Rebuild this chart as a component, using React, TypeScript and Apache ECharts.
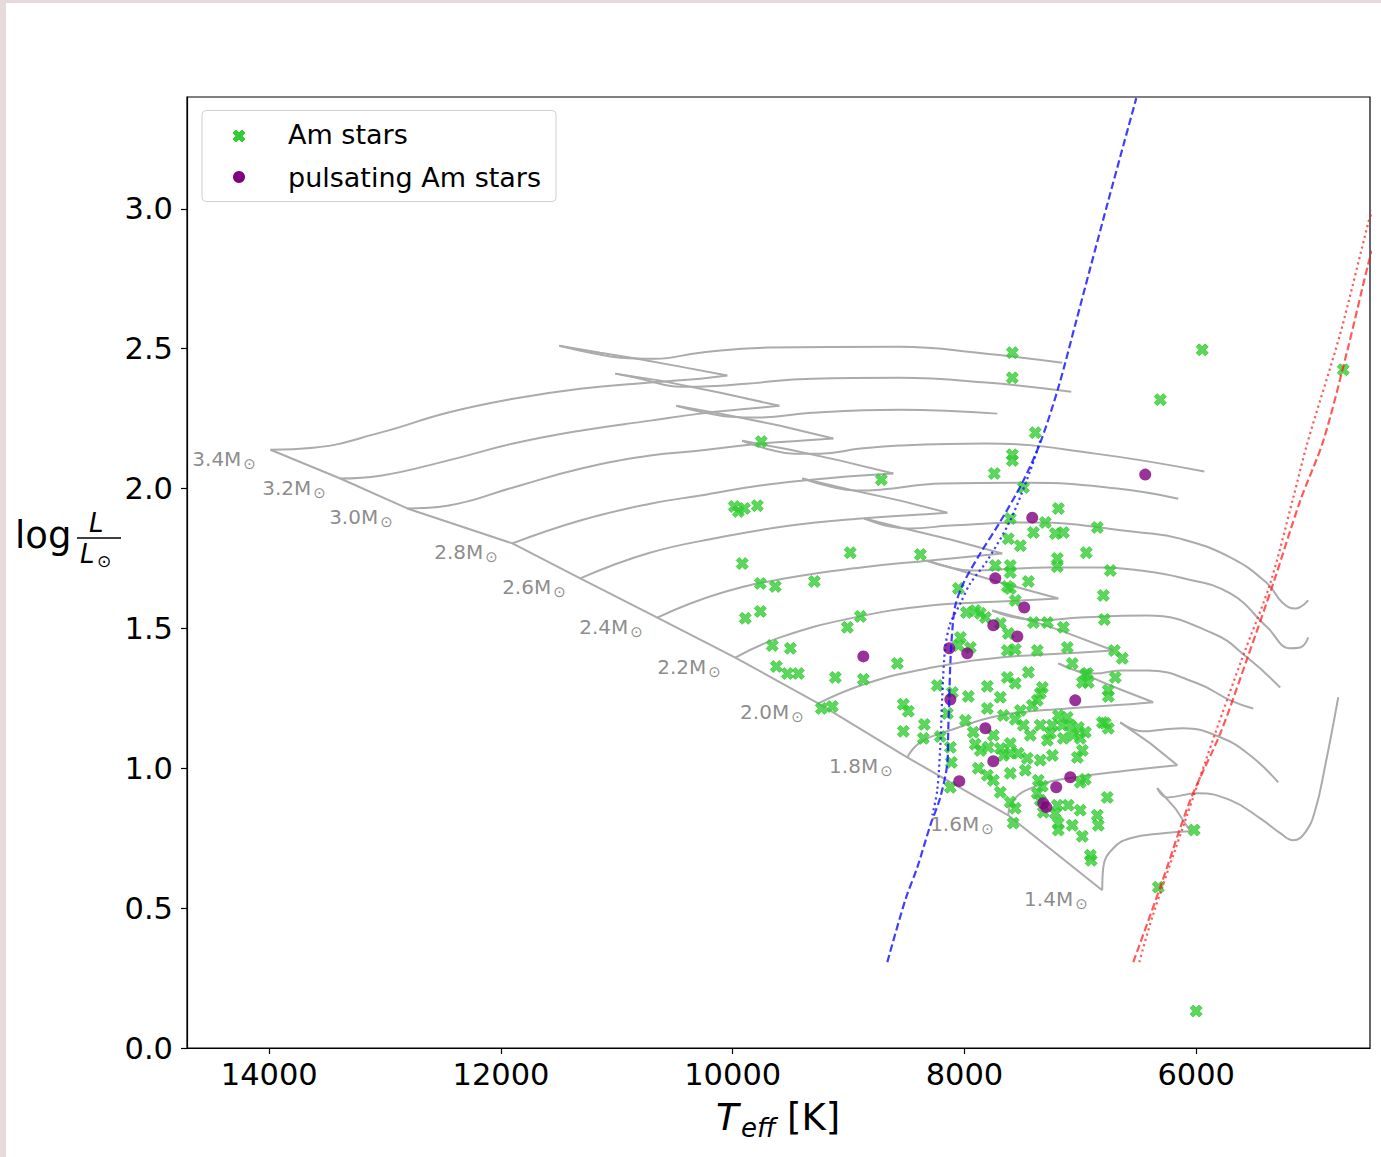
import React, { useEffect, useRef } from "react";
import * as echarts from "echarts";

// ---------- axes ----------
const T_TICKS = [6000, 8000, 10000, 12000, 14000];
const L_TICKS = [0, 0.5, 1.0, 1.5, 2.0, 2.5, 3.0];
const T_MIN = 4500;
const T_MAX = 14710;
const L_MIN = 0;
const L_MAX = 3.4;

// ---------- evolutionary tracks: [Teff, log L/Lsun] ----------
// each track = [main sequence up to the hook tip, contraction back to the hook base, post-hook evolution]
const MASSES = ["3.4", "3.2", "3.0", "2.8", "2.6", "2.4", "2.2", "2.0", "1.8", "1.6", "1.4"];

const track34 = [
  [[13990, 2.139], [13620, 2.146], [13042, 2.2], [12463, 2.271], [11894, 2.321], [11316, 2.357], [10712, 2.379], [10280, 2.393], [10047, 2.404]],
  [[10453, 2.436], [10824, 2.464], [11143, 2.486], [11497, 2.511]],
  [[11229, 2.486], [10970, 2.468], [10668, 2.464], [10280, 2.486], [9693, 2.504], [8563, 2.507], [7812, 2.482], [7156, 2.45]],
];
const track32 = [
  [[13387, 2.036], [13042, 2.046], [12463, 2.1], [11894, 2.161], [11316, 2.207], [10712, 2.243], [10280, 2.268], [9849, 2.286], [9598, 2.296]],
  [[10107, 2.343], [10625, 2.386], [11014, 2.411]],
  [[10798, 2.393], [10444, 2.364], [10107, 2.368], [9883, 2.375], [9313, 2.393], [8563, 2.396], [7812, 2.379], [7078, 2.346]],
];
const track30 = [
  [[12809, 1.929], [12463, 1.939], [11894, 2.004], [11316, 2.071], [10712, 2.118], [10280, 2.136], [9762, 2.161], [9417, 2.171], [9132, 2.179]],
  [[9590, 2.225], [10107, 2.268], [10487, 2.296]],
  [[10280, 2.275], [10021, 2.257], [9771, 2.254], [9322, 2.271], [8563, 2.282], [7717, 2.268]],
];
const track28 = [
  [[11902, 1.804], [11316, 1.886], [10712, 1.946], [10280, 1.975], [9762, 2.011], [9132, 2.039], [8614, 2.054]],
  [[9072, 2.1], [9503, 2.139], [9918, 2.171]],
  [[9676, 2.139], [9469, 2.125], [9244, 2.125], [8899, 2.143], [8563, 2.154], [7812, 2.161], [6871, 2.125], [5930, 2.061]],
];
const track26 = [
  [[11316, 1.679], [10737, 1.768], [10116, 1.825], [9503, 1.868], [8891, 1.893], [8381, 1.907], [8148, 1.914]],
  [[8554, 1.957], [8986, 1.996], [9400, 2.036]],
  [[9158, 2.007], [8942, 1.993], [8727, 1.996], [8192, 2.018], [7441, 2.021], [6681, 2.0], [6155, 1.964]],
];
const track24 = [
  [[10651, 1.539], [10116, 1.625], [9503, 1.682], [8891, 1.718], [8295, 1.743], [7674, 1.768]],
  [[8122, 1.818], [8554, 1.861], [8865, 1.893]],
  [[8640, 1.864], [8468, 1.857], [8122, 1.868], [7432, 1.879], [6483, 1.843], [6138, 1.821], [5706, 1.754], [5387, 1.661], [5257, 1.593], [5145, 1.571], [5033, 1.6]],
];
const track22 = [
  [[9978, 1.396], [9590, 1.468], [8986, 1.536], [8295, 1.582], [7691, 1.596], [7190, 1.607]],
  [[7691, 1.664], [8036, 1.707], [8330, 1.743]],
  [[8122, 1.718], [7950, 1.707], [7691, 1.711], [7285, 1.718], [6828, 1.718], [6483, 1.707], [6138, 1.682], [5706, 1.625], [5387, 1.504], [5188, 1.429], [5102, 1.432], [5033, 1.468]],
];
const track20 = [
  [[9262, 1.232], [8839, 1.304], [8269, 1.361], [7691, 1.396], [7113, 1.411], [6716, 1.421]],
  [[7174, 1.493], [7432, 1.529], [7760, 1.564]],
  [[7605, 1.543], [7346, 1.529], [7001, 1.539], [6422, 1.546], [5853, 1.482], [5559, 1.396], [5275, 1.289]],
];
const track18 = [
  [[8494, 1.039], [8381, 1.093], [8122, 1.136], [7691, 1.189], [7113, 1.214], [6569, 1.229], [6371, 1.236]],
  [[6742, 1.296], [7001, 1.343], [7190, 1.375]],
  [[7044, 1.35], [6871, 1.339], [6655, 1.35], [6422, 1.35], [5991, 1.304], [5706, 1.243], [5508, 1.214]],
];
const track16 = [
  [[7622, 0.832], [7579, 0.886], [7406, 0.932], [7113, 0.964], [6569, 0.993], [6163, 1.011]],
  [[6396, 1.089], [6655, 1.164]],
  [[6457, 1.132], [6284, 1.139], [6112, 1.143], [5792, 1.111], [5533, 1.046], [5292, 0.95]],
];
const track14 = [
  [[6811, 0.564], [6802, 0.646], [6716, 0.714], [6569, 0.75], [6284, 0.768], [6051, 0.775]],
  [[6181, 0.857], [6336, 0.929]],
  [[6250, 0.896], [5991, 0.911], [5706, 0.886], [5447, 0.821], [5275, 0.768], [5162, 0.743], [5059, 0.771], [4973, 0.85], [4886, 1.011], [4774, 1.254]],
];
const TRACKS = [track34, track32, track30, track28, track26, track24, track22, track20, track18, track16, track14];

// ---------- instability strip edges ----------
const blueEdgeDashed = [
  [8666, 0.307], [8511, 0.529], [8407, 0.646], [8295, 0.796], [8209, 0.896], [8148, 1.018], [8140, 1.136],
  [8131, 1.254], [8122, 1.375], [8105, 1.493], [8079, 1.582], [8010, 1.661], [7864, 1.768], [7691, 1.882],
  [7501, 2.021], [7346, 2.164], [7190, 2.361], [7035, 2.6], [6914, 2.789], [6759, 3.029], [6517, 3.396],
];
const blueEdgeDotted = [
  [7346, 2.171], [7432, 2.064], [7605, 1.886], [7803, 1.743], [7950, 1.661], [8036, 1.589], [8122, 1.518],
  [8166, 1.432], [8192, 1.254], [8209, 1.075], [8235, 0.921], [8278, 0.832],
];
const redEdgeDashed = [
  [6543, 0.307], [6310, 0.575], [6051, 0.886], [5792, 1.125], [5559, 1.393], [5335, 1.661], [5102, 1.957],
  [4903, 2.171], [4696, 2.493], [4515, 2.804], [4481, 2.85],
];
const redEdgeDotted = [
  [6491, 0.307], [6379, 0.468], [6094, 0.814], [5836, 1.125], [5594, 1.404], [5361, 1.661], [5162, 1.968],
  [5042, 2.161], [4757, 2.554], [4515, 2.95], [4481, 2.993],
];

// ---------- stars ----------
const amStars = [
  [7587, 2.486], [7587, 2.396], [5948, 2.496], [6310, 2.318], [4731, 2.425], [7389, 2.2], [9754, 2.168],
  [7587, 2.121], [7587, 2.1], [7743, 2.054], [8718, 2.032], [7492, 2.004], [7190, 1.929], [7303, 1.879],
  [7406, 1.843], [7216, 1.839], [7147, 1.843], [6854, 1.861], [7605, 1.893], [7622, 1.821], [7518, 1.796],
  [6949, 1.771], [7199, 1.75], [7199, 1.721], [6742, 1.707], [7734, 1.725], [7605, 1.725], [7605, 1.7],
  [7449, 1.668], [7631, 1.65], [7562, 1.6], [6802, 1.618], [6793, 1.532], [8053, 1.643], [7984, 1.557],
  [7907, 1.564], [7820, 1.539], [7285, 1.521], [7147, 1.504], [7691, 1.518], [7406, 1.521], [7622, 1.482],
  [8036, 1.468], [8053, 1.439], [7950, 1.432], [7631, 1.421], [7562, 1.425], [6707, 1.421], [6638, 1.393],
  [7070, 1.375], [7372, 1.421], [9987, 1.936], [9952, 1.918], [9900, 1.929], [9788, 1.939], [9918, 1.732],
  [8986, 1.771], [8381, 1.764], [9296, 1.668], [9762, 1.661], [9633, 1.65], [9892, 1.536], [9762, 1.561],
  [8899, 1.543], [9011, 1.504], [9659, 1.439], [9503, 1.429], [9624, 1.364], [9529, 1.339], [9434, 1.339],
  [9115, 1.325], [8873, 1.318], [8580, 1.375], [9236, 1.214], [9141, 1.221], [8528, 1.229], [8485, 1.204],
  [8347, 1.157], [8528, 1.132], [8355, 1.107], [8209, 1.114], [8235, 1.296], [8148, 1.196], [8105, 1.271],
  [8122, 1.075], [8114, 1.021], [8122, 0.932], [7967, 1.257], [7803, 1.293], [7691, 1.254], [7562, 1.304],
  [7631, 1.325], [7449, 1.343], [7328, 1.289], [7346, 1.268], [7372, 1.243], [6983, 1.307], [6932, 1.307],
  [6957, 1.336], [6759, 1.279], [6759, 1.257], [6699, 1.325], [7803, 1.214], [7665, 1.189], [7518, 1.207],
  [7562, 1.175], [7492, 1.154], [7924, 1.129], [7864, 1.064], [7907, 1.086], [7795, 1.075], [7691, 1.071],
  [7605, 1.089], [7665, 1.046], [7605, 1.054], [7536, 1.054], [7458, 1.036], [7346, 1.029], [7242, 1.046],
  [7346, 1.154], [7242, 1.154], [7156, 1.154], [7087, 1.154], [7018, 1.146], [6957, 1.129], [7147, 1.107],
  [7061, 1.118], [6983, 1.064], [7026, 1.039], [6811, 1.164], [6759, 1.143], [7881, 1.0], [7803, 0.975],
  [7751, 0.957], [7691, 0.914], [7605, 0.982], [7363, 0.957], [7328, 0.936], [7001, 0.95], [6957, 0.961],
  [6768, 0.896], [7605, 0.879], [7562, 0.857], [7579, 0.804], [7372, 0.911], [7346, 0.886], [7199, 0.868],
  [7216, 0.839], [7104, 0.868], [7001, 0.85], [6854, 0.832], [6845, 0.796], [7070, 0.796], [7190, 0.804],
  [7190, 0.779], [6983, 0.757], [7320, 0.843], [6914, 0.689], [6906, 0.671], [6017, 0.779], [6327, 0.575],
  [6000, 0.132], [7113, 1.182], [7259, 1.125], [6940, 1.339], [7001, 1.107], [6785, 1.161], [7432, 1.118],
  [7113, 1.432], [7605, 1.643], [7864, 1.554], [7285, 1.1], [7751, 1.118], [7190, 1.189], [7993, 1.171],
  [7415, 1.225], [7475, 0.993],
];
const pulsatingAmStars = [
  [6440, 2.05], [7415, 1.896], [7734, 1.679], [7484, 1.575], [7751, 1.511], [7544, 1.471], [8131, 1.429],
  [7976, 1.411], [8873, 1.4], [8122, 1.246], [7044, 1.243], [7820, 1.143], [7751, 1.025], [8045, 0.954],
  [7087, 0.968], [7208, 0.932], [7320, 0.875], [7294, 0.861],
];

// ---------- styling ----------
const FONT = "DejaVu Sans";
const AM_COLOR = "#32cd32";
const PULS_COLOR = "#800080";
const TRACK_COLOR = "#ababab";
const LABEL_GRAY = "#6e6e6e";
const BLUE = "rgba(20,20,255,0.82)";
const RED = "rgba(255,25,25,0.72)";
const FRAME = "#e6dada";

// filled "X" marker outline (matplotlib style), in units of a quarter of the marker size
const X_MARKER = [[-1, -2], [0, -1], [1, -2], [2, -1], [1, 0], [2, 1], [1, 2], [0, 1], [-1, 2], [-2, 1], [-1, 0], [-2, -1]];
const X_SYMBOL =
  "path://" + X_MARKER.map(([u, v], i) => (i ? "L" : "M") + (u + 2) * 25 + "," + (v + 2) * 25).join("") + "Z";
const xMarkerPoints = (cx: number, cy: number, size: number) =>
  X_MARKER.map(([u, v]) => [cx + (u * size) / 4, cy + (v * size) / 4]);

function buildOption() {
  const series: any[] = [];

  TRACKS.forEach((segments) => {
    let prev: number[] | null = null;
    segments.forEach((seg, j) => {
      const pts = prev ? [prev, ...seg] : seg;
      prev = seg[seg.length - 1];
      series.push({
        type: "line",
        data: pts,
        smooth: j === 1 ? false : 0.45,
        symbol: "none",
        silent: true,
        lineStyle: { color: TRACK_COLOR, width: 2 },
        z: 1,
      });
    });
  });

  // zero-age main sequence through the first point of every track
  series.push({
    type: "line",
    data: TRACKS.map((t) => t[0][0]),
    symbol: "none",
    silent: true,
    lineStyle: { color: TRACK_COLOR, width: 2 },
    z: 1,
  });

  // mass labels next to the ZAMS points
  series.push({
    type: "scatter",
    data: TRACKS.map((t, i) => ({ value: t[0][0], name: MASSES[i] })),
    symbolSize: 1,
    silent: true,
    itemStyle: { color: "rgba(0,0,0,0)" },
    label: {
      show: true,
      position: "left",
      distance: 14,
      offset: [0, 9],
      formatter: (p: any) => `{m|${p.name}M}{o|\u2299}`,
      rich: {
        m: { fontSize: 20, fontFamily: FONT, color: LABEL_GRAY },
        o: { fontSize: 15, fontFamily: FONT, color: LABEL_GRAY, padding: [10, 0, 0, 2] },
      },
    },
    z: 2,
  });

  series.push({
    name: "Am stars",
    type: "scatter",
    data: amStars,
    symbol: X_SYMBOL,
    symbolSize: 12,
    itemStyle: { color: AM_COLOR, borderColor: AM_COLOR, borderWidth: 1 },
    z: 3,
  });
  series.push({
    name: "pulsating Am stars",
    type: "scatter",
    data: pulsatingAmStars,
    symbol: "circle",
    symbolSize: 12,
    itemStyle: { color: PULS_COLOR },
    z: 4,
  });

  const edge = (data: number[][], color: string, type: any) => ({
    type: "line",
    data,
    smooth: 0.3,
    symbol: "none",
    silent: true,
    lineStyle: { color, width: 2.2, type },
    z: 5,
  });
  series.push(edge(blueEdgeDashed, BLUE, [7.5, 3.5]));
  series.push(edge(blueEdgeDotted, BLUE, [2.2, 3.3]));
  series.push(edge(redEdgeDashed, RED, [7.5, 3.5]));
  series.push(edge(redEdgeDotted, RED, [2.2, 3.3]));

  const txt = (text: string, x: number, y: number, size: number, extra: any = {}) => ({
    type: "text",
    x,
    y,
    silent: true,
    z: 20,
    style: {
      text,
      fontSize: size,
      fontFamily: FONT,
      fill: "#000",
      align: "left",
      verticalAlign: "middle",
      ...extra,
    },
  });

  const graphic: any[] = [
    { type: "rect", silent: true, z: 30, shape: { x: 0, y: 0, width: 1381, height: 3 }, style: { fill: FRAME } },
    { type: "rect", silent: true, z: 30, shape: { x: 0, y: 0, width: 6, height: 1157 }, style: { fill: FRAME } },
    // legend
    {
      type: "rect",
      silent: true,
      z: 18,
      shape: { x: 202, y: 110.5, width: 354, height: 91, r: 4 },
      style: { fill: "rgba(255,255,255,0.8)", stroke: "#cfcfcf", lineWidth: 1 },
    },
    {
      type: "polygon",
      silent: true,
      z: 20,
      shape: { points: xMarkerPoints(239, 136, 12) },
      style: { fill: AM_COLOR, stroke: AM_COLOR, lineWidth: 1 },
    },
    { type: "circle", silent: true, z: 20, shape: { cx: 239, cy: 177, r: 6 }, style: { fill: PULS_COLOR } },
    txt("Am stars", 288, 134, 27),
    txt("pulsating Am stars", 288, 177, 27),
    // y-axis title: log L / L_sun
    txt("log", 15, 535, 37),
    txt("L", 89, 523, 26, { fontStyle: "italic" }),
    { type: "line", silent: true, z: 20, shape: { x1: 77, y1: 538, x2: 121, y2: 538 }, style: { stroke: "#000", lineWidth: 1.5 } },
    txt("L", 80, 554, 26, { fontStyle: "italic" }),
    txt("\u2299", 97, 561, 17),
    // x-axis title: T_eff [K]
    txt("T", 716, 1117, 37, { fontStyle: "italic" }),
    txt("eff", 741, 1128, 26, { fontStyle: "italic" }),
    txt("[K]", 787, 1117, 37),
  ];

  return {
    animation: false,
    backgroundColor: "#ffffff",
    textStyle: { fontFamily: FONT },
    grid: {
      left: 187,
      top: 97,
      width: 1183,
      height: 951,
      show: true,
      borderColor: "#000",
      borderWidth: 1.2,
      backgroundColor: "transparent",
    },
    xAxis: {
      type: "value",
      inverse: true,
      min: T_MIN,
      max: T_MAX,
      axisLine: { show: true, onZero: false, lineStyle: { color: "#000", width: 1.2 } },
      axisTick: { show: true, inside: false, length: 6, customValues: T_TICKS, lineStyle: { color: "#000", width: 1.2 } },
      axisLabel: {
        customValues: T_TICKS,
        fontSize: 30.5,
        fontFamily: FONT,
        color: "#000",
        margin: 11,
        formatter: (v: number) => String(Math.round(v)),
      },
      splitLine: { show: false },
    },
    yAxis: {
      type: "value",
      min: L_MIN,
      max: L_MAX,
      axisLine: { show: true, onZero: false, lineStyle: { color: "#000", width: 1.2 } },
      axisTick: { show: true, inside: false, length: 6, customValues: L_TICKS, lineStyle: { color: "#000", width: 1.2 } },
      axisLabel: {
        customValues: L_TICKS,
        fontSize: 30.5,
        fontFamily: FONT,
        color: "#000",
        margin: 14,
        formatter: (v: number) => v.toFixed(1),
      },
      splitLine: { show: false },
    },
    series,
    graphic,
  };
}

export default function App() {
  const ref = useRef<HTMLDivElement>(null);
  useEffect(() => {
    document.body.style.margin = "0";
    const chart = echarts.init(ref.current as HTMLDivElement, null, { renderer: "svg" });
    chart.setOption(buildOption() as any);
    return () => chart.dispose();
  }, []);
  return <div ref={ref} style={{ width: 1381, height: 1157, background: "#fff" }} />;
}
